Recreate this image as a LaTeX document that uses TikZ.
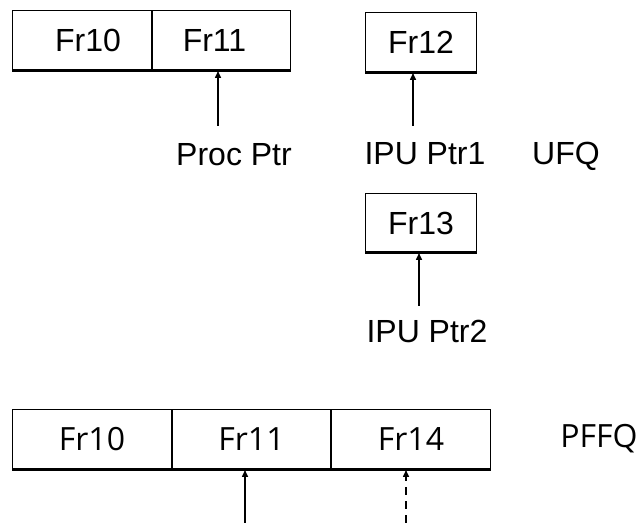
\documentclass[tikz,border=0pt]{standalone}
\usepackage{fontspec}
\setmainfont{Liberation Sans}
\newfontfamily\opensans{Open Sans}
\usetikzlibrary{arrows.meta}

\tikzset{
    cell/.style={draw, line width=0.5pt, minimum height=30pt, inner sep=0pt,
        anchor=north west, font=\fontsize{16}{19}\selectfont},
    lowcell/.style={cell, font=\opensans\fontsize{16}{19}\selectfont},
    floor/.style={line width=1.5pt},
    lbl/.style={inner sep=0pt, anchor=base, font=\fontsize{16}{19}\selectfont},
    ptr/.style={line width=0.75pt, -{Triangle[length=3.5pt,width=3pt]}}
}

\begin{document}
\begin{tikzpicture}[x=0.5pt,y=-0.5pt]

\useasboundingbox (0,0) rectangle (644,523);

% UFQ
\node[cell, minimum width=69.5pt] (fr10a) at (12,10) {\hspace*{6pt}Fr10};
\node[cell, minimum width=69pt] (fr11a) at (fr10a.north east) {Fr11\hspace*{7pt}};
\node[cell, minimum width=55.5pt] (fr12) at (365,12) {Fr12};
\node[cell, minimum width=55.5pt, minimum height=29.5pt] (fr13) at (365,193) {Fr13};

\draw[floor] (fr10a.south west) -- (fr11a.south east);
\draw[floor] (fr12.south west) -- (fr12.south east);
\draw[floor] (fr13.south west) -- (fr13.south east);

\node[lbl] (procptr) at (234,166) {Proc Ptr};
\node[lbl] (ipuptr1) at (425,165) {IPU Ptr1};
\node[lbl] (ufq) at (566,165) {UFQ};
\node[lbl] (ipuptr2) at (427,343) {IPU Ptr2};

\coordinate (proctail) at (218,126);
\coordinate (ipu1tail) at (413,126);
\coordinate (ipu2tail) at (419,306);
\draw[ptr] (proctail) -- (proctail |- fr11a.south);
\draw[ptr] (ipu1tail) -- (ipu1tail |- fr12.south);
\draw[ptr] (ipu2tail) -- (ipu2tail |- fr13.south);

% PFFQ
\node[lowcell, minimum width=79.5pt] (fr10b) at (12,409) {Fr10};
\node[lowcell, minimum width=79pt] (fr11b) at (fr10b.north east) {Fr11};
\node[lowcell, minimum width=79.5pt] (fr14) at (fr11b.north east) {Fr14};
\draw[floor] (fr10b.south west) -- (fr14.south east);

\node[lbl, font=\opensans\fontsize{16}{19}\selectfont] (pffq) at (599,448) {PFFQ};

\coordinate (proctailb) at (245,523);
\coordinate (iputailb) at (406,523);
\draw[ptr] (proctailb) -- (proctailb |- fr11b.south);
\draw[ptr, dash pattern=on 4pt off 3pt] (iputailb) -- (iputailb |- fr14.south);

\end{tikzpicture}
\end{document}
